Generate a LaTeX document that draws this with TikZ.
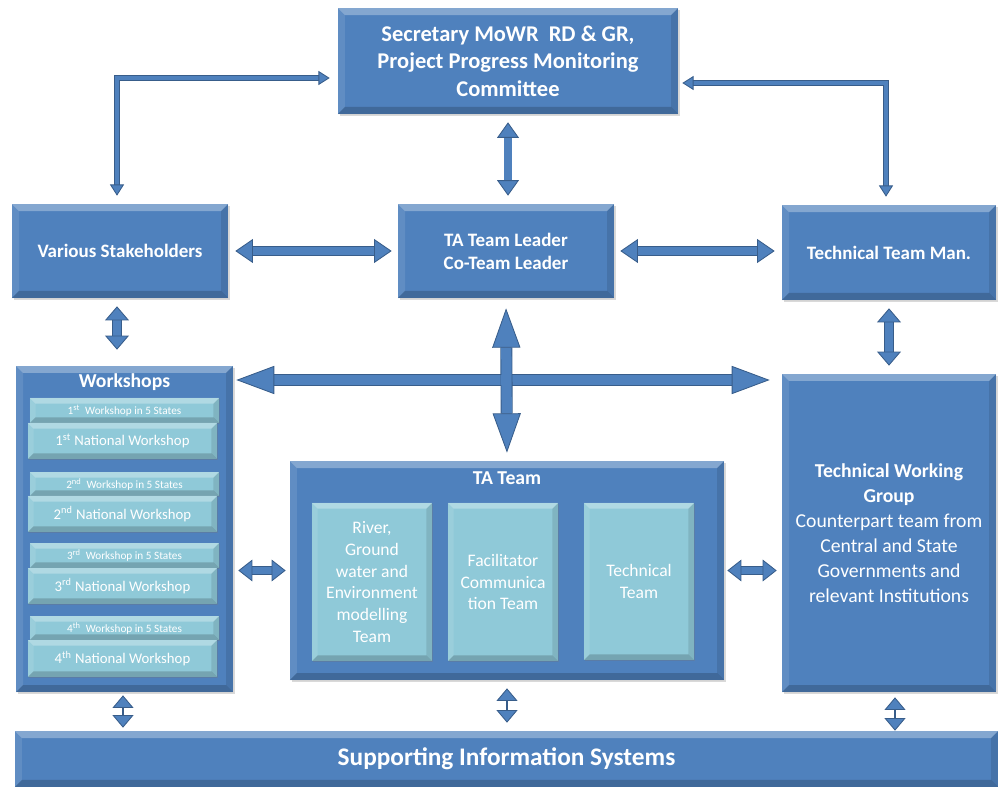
\documentclass[tikz,border=0pt]{standalone}
\usepackage{fontspec}
\setmainfont{Carlito}
\usetikzlibrary{arrows.meta,shadows}
\definecolor{boxblue}{RGB}{79,129,189}
\definecolor{edgeblue}{RGB}{56,93,138}
\definecolor{paleteal}{RGB}{143,201,216}
\tikzset{
  bevel/.style={path picture={
    \fill[white,opacity=0.3] (path picture bounding box.north west) -- (path picture bounding box.north east) -- ([xshift=-#1,yshift=-#1]path picture bounding box.north east) -- ([xshift=#1,yshift=-#1]path picture bounding box.north west) -- cycle;
    \fill[white,opacity=0.1] (path picture bounding box.north west) -- ([xshift=#1,yshift=-#1]path picture bounding box.north west) -- ([xshift=#1,yshift=#1]path picture bounding box.south west) -- (path picture bounding box.south west) -- cycle;
    \fill[black,opacity=0.1] (path picture bounding box.north east) -- ([xshift=-#1,yshift=-#1]path picture bounding box.north east) -- ([xshift=-#1,yshift=#1]path picture bounding box.south east) -- (path picture bounding box.south east) -- cycle;
    \fill[black,opacity=0.18] (path picture bounding box.south west) -- ([xshift=#1,yshift=#1]path picture bounding box.south west) -- ([xshift=-#1,yshift=#1]path picture bounding box.south east) -- (path picture bounding box.south east) -- cycle;
  }},
}
\begin{document}
\begin{tikzpicture}[x=0.025cm, y=-0.025cm,
    panel/.style={fill=boxblue, bevel=5pt, drop shadow={shadow xshift=1.5pt, shadow yshift=-1.5pt, opacity=0.3}, text=white, align=center, inner sep=0pt},
    tile/.style={fill=paleteal, bevel=4pt, drop shadow={shadow xshift=1pt, shadow yshift=-1pt, opacity=0.3}, text=white, align=center, inner sep=0pt},
    duct/.style n args={3}{draw=edgeblue, line width=0.6pt, double=boxblue, double distance=#1, {Triangle[length=#2,width=#3,fill=boxblue]}-{Triangle[length=#2,width=#3,fill=boxblue]}},
    pin/.style={draw=edgeblue, line width=1.2pt, {Triangle[length=9pt,width=15pt,fill=boxblue,line width=0.6pt]}-{Triangle[length=9pt,width=15pt,fill=boxblue,line width=0.6pt]}},
    big/.style={font=\fontsize{13.5}{16.3}\selectfont\bfseries}]
  \useasboundingbox (0,0) rectangle (998,787);
    \node (sec) at (508,61) [panel, minimum width=8.5cm, minimum height=2.65cm, font=\fontsize{16}{19.5}\selectfont\bfseries] {Secretary MoWR\ \ RD \& GR,\\Project Progress Monitoring\\Committee};
    \node (stake) at (120,251) [panel, big, minimum width=5.4cm, minimum height=2.35cm] {Various Stakeholders};
    \node (lead) at (506,251) [panel, big, minimum width=5.4cm, minimum height=2.35cm] {TA Team Leader\\Co-Team Leader};
    \node (man) at (889,252.5) [panel, big, minimum width=5.35cm, minimum height=2.375cm] {Technical Team Man.};
%
    \node (shop) at (124.5,529) [panel, minimum width=5.425cm, minimum height=8.15cm] {};
    \node (shoptitle) at (124.5,382) [text=white, font=\fontsize{14}{16}\selectfont\bfseries] {Workshops};
    \node (st1) at (124.5,410.5) [tile, minimum width=4.725cm, minimum height=0.625cm, font=\fontsize{8}{9}\selectfont] {1\textsuperscript{st}\ \ Workshop in 5 States};
    \node (nat1) at (122.5,441) [tile, minimum width=4.725cm, minimum height=0.9cm, font=\fontsize{10.5}{12}\selectfont] {1\textsuperscript{st} National Workshop};
    \node (st2) at (124.5,484) [tile, minimum width=4.725cm, minimum height=0.6cm, font=\fontsize{8}{9}\selectfont] {2\textsuperscript{nd}\ \ Workshop in 5 States};
    \node (nat2) at (122.5,514) [tile, minimum width=4.725cm, minimum height=0.9cm, font=\fontsize{10.5}{12}\selectfont] {2\textsuperscript{nd} National Workshop};
    \node (st3) at (124.5,555.5) [tile, minimum width=4.725cm, minimum height=0.625cm, font=\fontsize{8}{9}\selectfont] {3\textsuperscript{rd}\ \ Workshop in 5 States};
    \node (nat3) at (122.5,586) [tile, minimum width=4.725cm, minimum height=0.9cm, font=\fontsize{10.5}{12}\selectfont] {3\textsuperscript{rd} National Workshop};
    \node (st4) at (124.5,628) [tile, minimum width=4.725cm, minimum height=0.6cm, font=\fontsize{8}{9}\selectfont] {4\textsuperscript{th}\ \ Workshop in 5 States};
    \node (nat4) at (122.5,658.5) [tile, minimum width=4.725cm, minimum height=0.925cm, font=\fontsize{10.5}{12}\selectfont] {4\textsuperscript{th} National Workshop};
%
    \node (tat) at (507,570.5) [panel, minimum width=10.85cm, minimum height=5.475cm] {};
    \node (tattitle) at (507,478) [text=white, font=\fontsize{14}{16}\selectfont\bfseries] {TA Team};
    \node (river) at (372,582) [tile, minimum width=3cm, minimum height=3.95cm, font=\fontsize{12.5}{15.6}\selectfont] {River,\\Ground\\water and\\Environment\\modelling\\Team};
    \node (faci) at (503,582) [tile, minimum width=2.75cm, minimum height=3.95cm, font=\fontsize{12.5}{15.6}\selectfont] {Facilitator\\Communica\\tion Team};
    \node (tech) at (639,581.5) [tile, minimum width=2.75cm, minimum height=3.925cm, font=\fontsize{12.5}{15.6}\selectfont] {Technical\\Team};
%
    \node (twg) at (889,533) [panel, minimum width=5.35cm, minimum height=7.95cm, font=\fontsize{14}{17.7}\selectfont] {\textbf{Technical Working}\\\textbf{Group}\\Counterpart team from\\Central and State\\Governments and\\relevant Institutions};
    \node (sis) at (506.5,759) [panel, minimum width=24.575cm, minimum height=1.4cm, font=\fontsize{18}{21}\selectfont\bfseries] {Supporting Information Systems};
%
    \coordinate (lc) at (117,78); \coordinate (rc) at (886,83); \coordinate (hub) at (506,380);
    \draw [duct={2.6pt}{8pt}{10pt}, shorten <=2mm, shorten >=2mm] (stake.north -| lc) |- (sec.west |- lc);
    \draw [duct={2.6pt}{8pt}{10pt}, shorten <=2mm, shorten >=1mm] (man.north -| rc) |- (sec.east |- rc);
    \draw [duct={5pt}{11pt}{15.5pt}, shorten <=2mm, shorten >=2mm] (sec.south) -- (sec.south |- lead.north);
%
    \draw [duct={6pt}{12.5pt}{17pt}, shorten <=1.75mm, shorten >=1.5mm] (stake.east) -- (lead.west);
    \draw [duct={6pt}{12.5pt}{17pt}, shorten <=1.5mm, shorten >=1.75mm] (lead.east) -- (lead.east -| man.west);
    \draw [duct={6pt}{10pt}{17pt}, shorten <=2mm, shorten >=4mm] (stake.south -| lc) -- (shop.north -| lc);
    \draw [duct={6pt}{10pt}{17pt}, shorten <=2mm, shorten >=2mm] (man.south) -- (man.south |- twg.north);
%
    \draw [duct={7.3pt}{27pt}{20pt}, shorten <=0.75mm, shorten >=3mm] (hub -| shop.east) -- (hub -| twg.west);
    \draw [duct={7.3pt}{28pt}{20pt}, shorten <=2.5mm, shorten >=2mm] (lead.south) -- (tat.north);
    \fill [boxblue] (hub) ++(-5,-5) rectangle ++(10,10);
%
    \draw [duct={5pt}{10pt}{15.5pt}, shorten <=1.25mm, shorten >=1mm] (shop.east |- tat.west) -- (tat.west);
    \draw [duct={5pt}{10pt}{15.5pt}, shorten <=0.75mm, shorten >=1.25mm] (tat.east) -- (tat.east -| twg.west);
%
    \draw [pin, shorten <=0.75mm, shorten >=0.75mm] (shop.south -| 123,0) -- (sis.north -| 123,0);
    \draw [pin, shorten <=2mm, shorten >=2mm] (tat.south) -- (tat.south |- sis.north);
    \draw [pin, shorten <=1.25mm] (twg.south -| 895,0) -- (sis.north -| 895,0);
  \end{tikzpicture}
\end{document}
